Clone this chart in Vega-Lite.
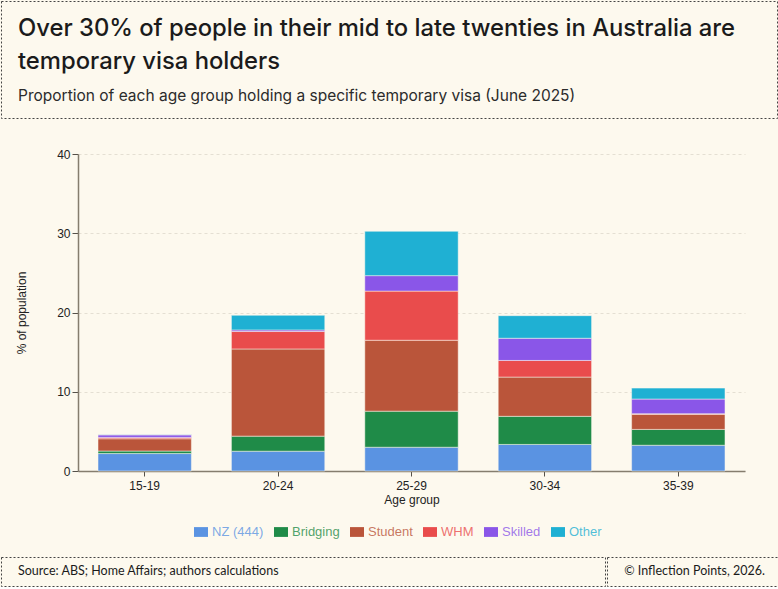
{
  "$schema": "https://vega.github.io/schema/vega-lite/v6.json",
  "background": "#fdf9ee",
  "padding": 0,
  "spacing": 29,
  "resolve": {"legend": {"color": "independent"}},
  "config": {
    "font": "Liberation Sans",
    "view": {"stroke": null},
    "axis": {
      "labelFont": "Liberation Sans",
      "labelFontSize": 12,
      "labelColor": "#222222",
      "titleFont": "Liberation Sans",
      "titleFontSize": 12,
      "titleFontWeight": "normal",
      "titleColor": "#222222",
      "domainColor": "#857d6e",
      "domainWidth": 1.5,
      "tickColor": "#555049",
      "tickSize": 6
    }
  },
  "vconcat": [
    {
      "width": 776,
      "height": 117,
      "data": {"values": []},
      "mark": "point",
      "view": {"stroke": "#444444", "strokeDash": [2, 2], "strokeWidth": 1},
      "title": {
        "text": ["Over 30% of people in their mid to late twenties in Australia are", "temporary visa holders"],
        "subtitle": "Proportion of each age group holding a specific temporary visa (June 2025)",
        "orient": "top",
        "anchor": "start",
        "frame": "group",
        "offset": -103,
        "dx": 17,
        "font": "Inter",
        "fontSize": 23.8,
        "fontWeight": 500,
        "lineHeight": 33,
        "color": "#1b1b1b",
        "subtitleFont": "Inter",
        "subtitleFontSize": 15.5,
        "subtitleColor": "#2b2b2b",
        "subtitlePadding": 15
      }
    },
    {
      "spacing": 17,
      "resolve": {"legend": {"color": "independent"}},
      "vconcat": [
        {
          "spacing": 0,
          "resolve": {"legend": {"color": "independent"}},
          "hconcat": [
            {
              "width": 14,
              "height": 0,
              "data": {"values": []},
              "mark": "point"
            },
            {
              "width": 667,
              "height": 317,
              "data": {
                "values": [
                  {"age": "15-19", "visa": "NZ (444)", "pct": 2.2},
                  {"age": "15-19", "visa": "Bridging", "pct": 0.32},
                  {"age": "15-19", "visa": "Student", "pct": 1.55},
                  {"age": "15-19", "visa": "WHM", "pct": 0.17},
                  {"age": "15-19", "visa": "Skilled", "pct": 0.32},
                  {"age": "15-19", "visa": "Other", "pct": 0.04},
                  {"age": "20-24", "visa": "NZ (444)", "pct": 2.5},
                  {"age": "20-24", "visa": "Bridging", "pct": 1.9},
                  {"age": "20-24", "visa": "Student", "pct": 11.0},
                  {"age": "20-24", "visa": "WHM", "pct": 2.2},
                  {"age": "20-24", "visa": "Skilled", "pct": 0.2},
                  {"age": "20-24", "visa": "Other", "pct": 1.85},
                  {"age": "25-29", "visa": "NZ (444)", "pct": 3.0},
                  {"age": "25-29", "visa": "Bridging", "pct": 4.55},
                  {"age": "25-29", "visa": "Student", "pct": 8.95},
                  {"age": "25-29", "visa": "WHM", "pct": 6.2},
                  {"age": "25-29", "visa": "Skilled", "pct": 1.95},
                  {"age": "25-29", "visa": "Other", "pct": 5.6},
                  {"age": "30-34", "visa": "NZ (444)", "pct": 3.35},
                  {"age": "30-34", "visa": "Bridging", "pct": 3.55},
                  {"age": "30-34", "visa": "Student", "pct": 4.95},
                  {"age": "30-34", "visa": "WHM", "pct": 2.1},
                  {"age": "30-34", "visa": "Skilled", "pct": 2.8},
                  {"age": "30-34", "visa": "Other", "pct": 2.85},
                  {"age": "35-39", "visa": "NZ (444)", "pct": 3.25},
                  {"age": "35-39", "visa": "Bridging", "pct": 2.0},
                  {"age": "35-39", "visa": "Student", "pct": 1.9},
                  {"age": "35-39", "visa": "WHM", "pct": 0.08},
                  {"age": "35-39", "visa": "Skilled", "pct": 1.85},
                  {"age": "35-39", "visa": "Other", "pct": 1.38}
                ]
              },
              "transform": [
                {"calculate": "indexof(['NZ (444)', 'Bridging', 'Student', 'WHM', 'Skilled', 'Other'], datum.visa)", "as": "visa_order"}
              ],
              "mark": {"type": "bar", "stroke": "#fdf9ee", "strokeWidth": 0.5},
              "encoding": {
                "x": {
                  "field": "age",
                  "type": "nominal",
                  "title": "Age group",
                  "scale": {"paddingInner": 0.3, "paddingOuter": 0.15},
                  "axis": {"labelAngle": 0, "labelPadding": 4, "titlePadding": 3, "tickSize": 5}
                },
                "y": {
                  "field": "pct",
                  "type": "quantitative",
                  "stack": "zero",
                  "title": "% of population",
                  "scale": {"domain": [0, 40]},
                  "axis": {
                    "values": [0, 10, 20, 30, 40],
                    "titlePadding": 28,
                    "labelPadding": 2,
                    "grid": true,
                    "gridColor": "#e4dfd3",
                    "gridDash": [3, 3],
                    "gridWidth": 1
                  }
                },
                "color": {
                  "field": "visa",
                  "type": "nominal",
                  "sort": ["NZ (444)", "Bridging", "Student", "WHM", "Skilled", "Other"],
                  "scale": {
                    "domain": ["NZ (444)", "Bridging", "Student", "WHM", "Skilled", "Other"],
                    "range": ["#5a93e2", "#1f8b48", "#ba553a", "#e94c4c", "#8a56e8", "#1fb0d3"]
                  },
                  "legend": {
                    "orient": "none",
                    "legendX": 116,
                    "legendY": 371,
                    "direction": "horizontal",
                    "title": null,
                    "symbolType": "M-1,-0.7H1V0.7H-1Z",
                    "symbolSize": 196,
                    "symbolStrokeWidth": 0,
                    "labelFont": "Liberation Sans",
                    "labelFontSize": 13,
                    "labelOffset": 4,
                    "columnPadding": 10,
                    "labelOpacity": 0.8,
                    "labelColor": {"expr": "datum.label == 'NZ (444)' ? '#5a93e2' : datum.label == 'Bridging' ? '#1f8b48' : datum.label == 'Student' ? '#ba553a' : datum.label == 'WHM' ? '#e94c4c' : datum.label == 'Skilled' ? '#8a56e8' : '#1fb0d3'"}
                  }
                },
                "order": {"field": "visa_order", "type": "quantitative"},
                "tooltip": [
                  {"field": "age", "title": "Age group"},
                  {"field": "visa", "title": "Visa"},
                  {"field": "pct", "title": "% of population"}
                ]
              }
            }
          ]
        },
        {
          "spacing": 0,
          "hconcat": [
            {
              "width": 604,
              "height": 29,
              "data": {"values": []},
              "mark": "point",
              "view": {"stroke": "#444444", "strokeDash": [2, 2], "strokeWidth": 1},
              "title": {
                "text": "Source: ABS; Home Affairs; authors calculations",
                "orient": "top",
                "anchor": "start",
                "frame": "group",
                "offset": -20,
                "dx": 17,
                "font": "Lato",
                "fontSize": 12.5,
                "fontWeight": "normal",
                "color": "#1b1b1b"
              }
            },
            {
              "width": 172,
              "height": 29,
              "data": {"values": []},
              "mark": "point",
              "view": {"stroke": "#444444", "strokeDash": [2, 2], "strokeWidth": 1},
              "title": {
                "text": "© Inflection Points, 2026.",
                "orient": "top",
                "anchor": "end",
                "frame": "group",
                "offset": -20,
                "dx": -14,
                "font": "Lato",
                "fontSize": 12.5,
                "fontWeight": "normal",
                "color": "#1b1b1b"
              }
            }
          ]
        }
      ]
    }
  ]
}
